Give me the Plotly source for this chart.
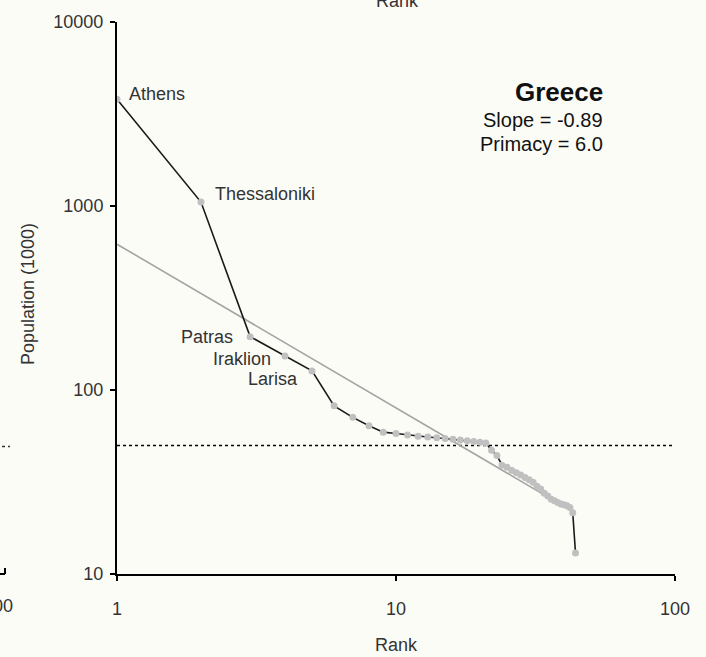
import math
import plotly.graph_objects as go

# Greece rank-size data (population in thousands)
ranks = list(range(1, 45))
population = [
    3800, 1050, 195, 153, 127, 82, 71, 64, 59, 58,
    57, 56, 55.5, 55, 54.5, 54, 53.5, 53, 52.5, 52,
    51.5, 47, 44, 39, 38, 36.5, 35.5, 34.5, 33.5, 32.5,
    31.5, 30, 29, 27.5, 26.5, 25.5, 25, 24.5, 24, 23.8,
    23.5, 23, 21.5, 13,
]

# fitted rank-size line (slope -0.89)
fit_rank = [1, 44]
fit_pop = [620, 21.4]

# primacy threshold line
threshold_rank = [1, 100]
threshold_pop = [50, 50]

city_names = ["Athens", "Thessaloniki", "Patras", "Iraklion", "Larisa"]
city_ranks = [1, 2, 3, 4, 5]

x_ticks = [1, 10, 100]
y_ticks = [10, 100, 1000, 10000]

text_color = "#333333"
font_family = "Liberation Sans, Arial, sans-serif"

# plot area in page pixels
PX0, PX1, PY0, PY1 = 117, 675, 20, 574


def px(x):
    return (x - PX0) / (PX1 - PX0)


def py(y):
    return (PY1 - y) / (PY1 - PY0)


fig = go.Figure()

fig.add_trace(go.Scatter(
    x=threshold_rank, y=threshold_pop, mode="lines",
    line=dict(color="black", width=1.5, dash="dot"),
    hoverinfo="skip",
))
fig.add_trace(go.Scatter(
    x=fit_rank, y=fit_pop, mode="lines",
    line=dict(color="#a4a4a4", width=1.6),
    hoverinfo="skip",
))
fig.add_trace(go.Scatter(
    x=ranks, y=population, mode="lines+markers",
    line=dict(color="#1a1a1a", width=1.6),
    marker=dict(size=7, color="#c0c0c0"),
))

# city labels: (xshift, yshift, anchor)
label_pos = {
    "Athens": (10, 5, "left"),
    "Thessaloniki": (12, 8, "left"),
    "Patras": (-15, 0, "right"),
    "Iraklion": (-12, -3, "right"),
    "Larisa": (-12, -8, "right"),
}
for name, r in zip(city_names, city_ranks):
    dx, dy, anchor = label_pos[name]
    fig.add_annotation(
        x=math.log10(r), y=math.log10(population[r - 1]),
        text=name, showarrow=False, xanchor=anchor, yanchor="middle",
        xshift=dx, yshift=dy,
        font=dict(size=18, color=text_color, family=font_family),
    )

# country title and stats
fig.add_annotation(
    xref="paper", yref="paper", x=px(605), y=py(90),
    text="<b>Greece</b>", showarrow=False, xanchor="right", yanchor="middle",
    font=dict(size=26, color="#111111", family=font_family),
)
fig.add_annotation(
    xref="paper", yref="paper", x=px(605), y=py(118),
    text="Slope = -0.89", showarrow=False, xanchor="right", yanchor="middle",
    font=dict(size=20, color="#111111", family=font_family),
)
fig.add_annotation(
    xref="paper", yref="paper", x=px(605), y=py(142),
    text="Primacy = 6.0", showarrow=False, xanchor="right", yanchor="middle",
    font=dict(size=20, color="#111111", family=font_family),
)

# axis titles
fig.add_annotation(
    xref="paper", yref="paper", x=px(396), y=py(645),
    text="Rank", showarrow=False, xanchor="center", yanchor="middle",
    font=dict(size=18, color=text_color, family=font_family),
)
fig.add_annotation(
    xref="paper", yref="paper", x=px(28), y=py(293),
    text="Population (1000)", showarrow=False, textangle=-90,
    xanchor="center", yanchor="middle",
    font=dict(size=18, color=text_color, family=font_family),
)

# fragments of the neighbouring panels cut off by the crop
fig.add_annotation(
    xref="paper", yref="paper", x=px(397), y=py(-1),
    text="Rank", showarrow=False, xanchor="center", yanchor="middle",
    font=dict(size=18, color=text_color, family=font_family),
)
fig.add_annotation(
    xref="paper", yref="paper", x=px(15), y=py(606),
    text="100", showarrow=False, xanchor="right", yanchor="middle",
    font=dict(size=18, color=text_color, family=font_family),
)
fig.add_shape(
    type="line", xref="paper", yref="paper",
    x0=px(-40), x1=px(5), y0=py(574), y1=py(574),
    line=dict(color="black", width=2),
)
fig.add_shape(
    type="line", xref="paper", yref="paper",
    x0=px(5), x1=px(5), y0=py(574), y1=py(568),
    line=dict(color="black", width=2),
)
fig.add_shape(
    type="line", xref="paper", yref="paper",
    x0=px(-40), x1=px(10), y0=py(446), y1=py(446),
    line=dict(color="#333333", width=1.5, dash="dot"),
)

fig.update_layout(
    width=706, height=657,
    margin=dict(l=PX0, r=706 - PX1, t=PY0, b=657 - PY1),
    paper_bgcolor="#fcfcf7", plot_bgcolor="#fcfcf7",
    showlegend=False,
    font=dict(family=font_family, color=text_color, size=18),
    xaxis=dict(
        type="log", range=[0, 2], tickvals=x_ticks, ticktext=[str(v) for v in x_ticks],
        showgrid=False, zeroline=False, showline=True, linecolor="black", linewidth=2,
        ticks="outside", ticklen=5, tickwidth=2, tickcolor="black",
        ticklabelstandoff=12, tickfont=dict(size=18, color=text_color),
    ),
    yaxis=dict(
        type="log", range=[1, 4], tickvals=y_ticks, ticktext=[str(v) for v in y_ticks],
        showgrid=False, zeroline=False, showline=True, linecolor="black", linewidth=2,
        ticks="outside", ticklen=5, tickwidth=2, tickcolor="black",
        ticklabelstandoff=3, tickfont=dict(size=18, color=text_color),
    ),
)

fig.write_html(
    "out.html",
    config={"displayModeBar": False},
    post_script="document.body.style.margin='0';document.body.style.background='#fcfcf7';",
)
